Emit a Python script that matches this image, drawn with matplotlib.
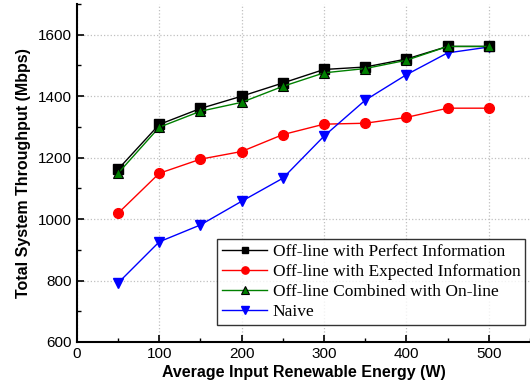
import matplotlib
matplotlib.use("Agg")
import matplotlib.pyplot as plt
from matplotlib.ticker import MultipleLocator

energy = [50, 100, 150, 200, 250, 300, 350, 400, 450, 500]
perfect = [1162, 1308, 1360, 1400, 1443, 1487, 1495, 1521, 1562, 1562]
expected = [1019, 1149, 1195, 1220, 1275, 1309, 1312, 1331, 1361, 1361]
combined = [1149, 1299, 1351, 1380, 1432, 1476, 1490, 1517, 1562, 1562]
naive = [792, 926, 981, 1058, 1133, 1270, 1387, 1470, 1541, 1560]

labels = ["Off-line with Perfect Information",
          "Off-line with Expected Information",
          "Off-line Combined with On-line",
          "Naive"]

fig = plt.figure(figsize=(5.30, 3.88), dpi=100)
ax = fig.add_axes([0.145, 0.1186, 0.855, 0.871])

ax.plot(energy, perfect, color="black", marker="s", ms=6.5, mec="black", mfc="black", lw=1, label=labels[0], zorder=4)
ax.plot(energy, expected, color="red", marker="o", ms=7, mec="red", mfc="red", lw=1, label=labels[1], zorder=3)
ax.plot(energy, combined, color="green", marker="^", ms=7, mec="black", mfc="green", mew=0.8, lw=1, label=labels[2], zorder=5)
ax.plot(energy, naive, color="blue", marker="v", ms=7, mec="blue", mfc="blue", lw=1, label=labels[3], zorder=3)

ax.set_xlim(0, 550)
ax.set_ylim(600, 1700)
ax.xaxis.set_minor_locator(MultipleLocator(50))
ax.yaxis.set_minor_locator(MultipleLocator(100))
ax.set_xticks([0, 100, 200, 300, 400, 500])
ax.set_yticks([600, 800, 1000, 1200, 1400, 1600])

for s in ["top", "right"]:
    ax.spines[s].set_visible(False)
for s in ["left", "bottom"]:
    ax.spines[s].set_linewidth(1.5)

ax.tick_params(which="major", direction="in", length=5, width=1.2, labelsize=11)
ax.tick_params(which="minor", direction="in", length=3, width=1.0)
for t in ax.get_xticklabels() + ax.get_yticklabels():
    t.set_family("Liberation Sans")

ax.grid(True, which="major", color="#c0c0c0", linestyle=":", linewidth=0.9)
ax.set_axisbelow(True)

ax.set_xlabel("Average Input Renewable Energy (W)", fontsize=11.5, fontweight="bold", family="Liberation Sans", labelpad=3)
ax.set_ylabel("Total System Throughput (Mbps)", fontsize=11.5, fontweight="bold", family="Liberation Sans", labelpad=5)

leg = ax.legend(loc="lower right", bbox_to_anchor=(0.99, 0.05), prop={"family": "Liberation Serif", "size": 12.5},
                frameon=True, fancybox=False, edgecolor="black", handlelength=2.6, handletextpad=0.3,
                borderpad=0.3, labelspacing=0.22, borderaxespad=0.0, markerscale=0.75)
leg.get_frame().set_linewidth(1.0)

fig.savefig("out.png", dpi=100)
